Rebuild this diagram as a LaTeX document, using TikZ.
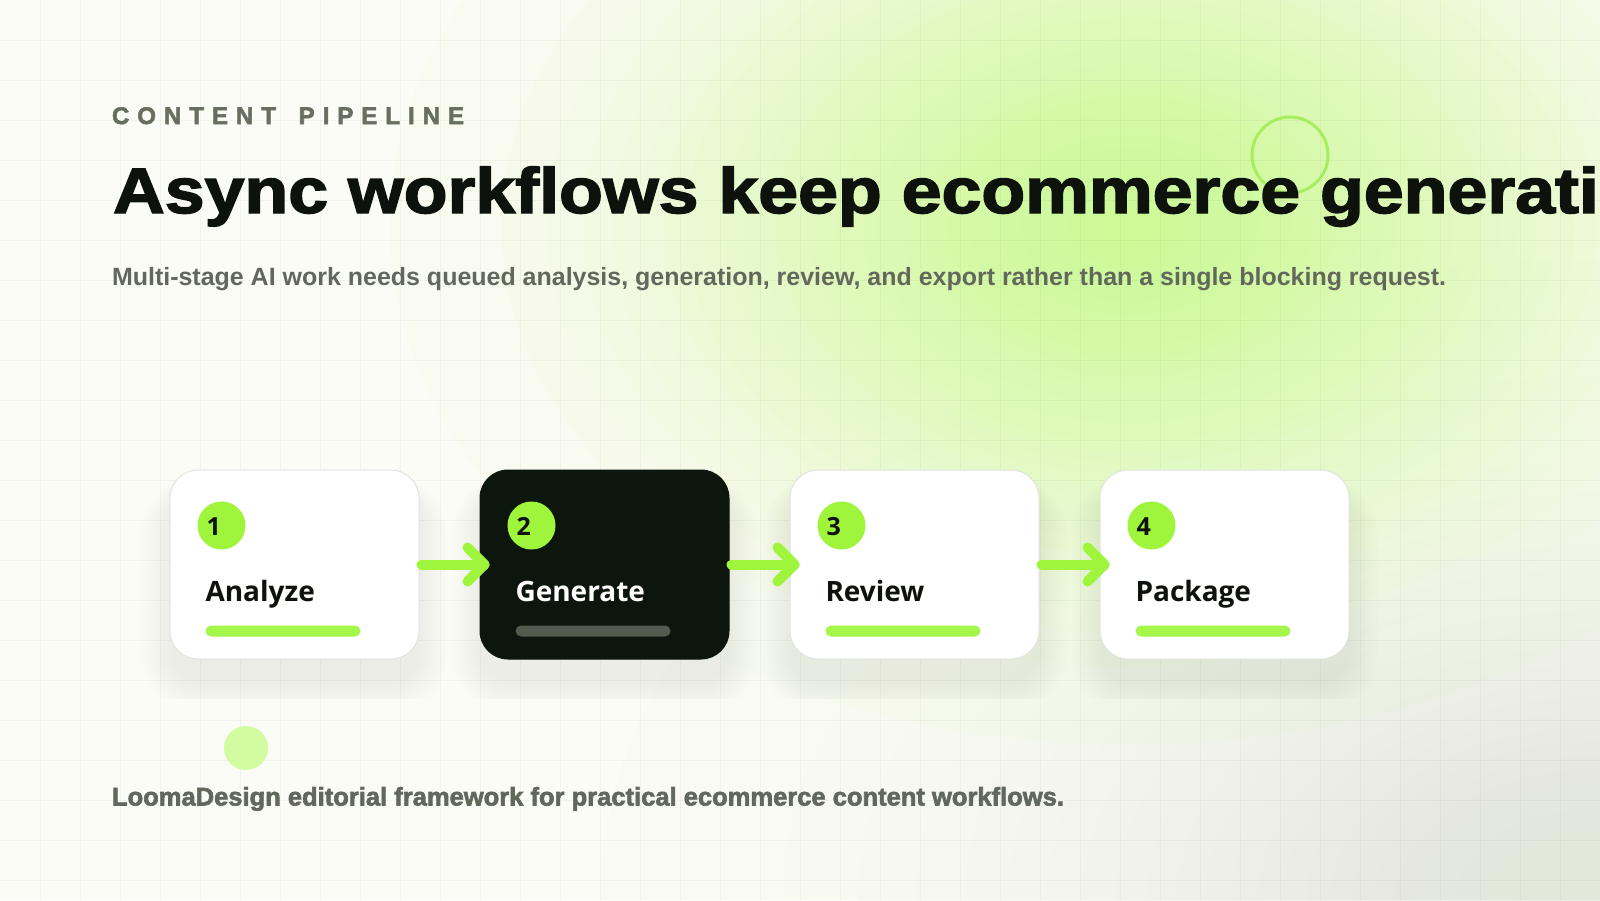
\documentclass[tikz,border=0pt]{standalone}
\usepackage{fontspec}
\usetikzlibrary{calc}
\setmainfont{Liberation Sans}
\newfontfamily\titlefont[FakeBold=2.2]{Liberation Sans Bold}
\newfontfamily\eyefont[FakeBold=2.4]{Liberation Sans Bold}
\newfontfamily\footfont[FakeBold=2.4]{Liberation Sans Bold}
\IfFontExistsTF{Noto Sans Bold}
  {\newfontfamily\cardfont{Noto Sans Bold}}
  {\IfFontExistsTF{Open Sans Bold}
     {\newfontfamily\cardfont{Open Sans Bold}}
     {\newfontfamily\cardfont[FakeBold=2.5]{Noto Sans}}}
\newcommand\lsp{\hspace*{8.0pt}}

\definecolor{bgc}{RGB}{251,252,245}
\definecolor{glowc}{RGB}{206,249,144}
\definecolor{graytint}{RGB}{226,232,218}
\definecolor{ink}{RGB}{13,19,12}
\definecolor{muted}{RGB}{98,105,92}
\definecolor{eyec}{RGB}{104,111,96}
\definecolor{limec}{RGB}{158,245,60}
\definecolor{limebar}{RGB}{164,246,74}
\definecolor{darkc}{RGB}{13,22,13}
\definecolor{darkbar}{RGB}{82,89,77}
\definecolor{softlime}{RGB}{210,252,160}
\definecolor{ringc}{RGB}{166,238,96}
\definecolor{cardborder}{RGB}{226,228,222}

\pgfdeclarelayer{bglayer}
\pgfdeclarelayer{shadowlayer}
\pgfsetlayers{bglayer,shadowlayer,main}

\tikzset{
  txt/.style={inner sep=0pt, outer sep=0pt},
  card/.style={rectangle, rounded corners=28pt, minimum width=249pt, minimum height=189pt, inner sep=0pt, fill=white, draw=cardborder, line width=1pt},
  darkcard/.style={card, fill=darkc, draw=darkc},
  badge/.style={circle, minimum size=48pt, inner sep=0pt, fill=limec},
  numtxt/.style={txt, anchor=base west, text=ink, font=\cardfont\fontsize{25}{25}\selectfont},
  labtxt/.style={txt, anchor=base west, font=\cardfont\fontsize{28}{30}\selectfont},
  flowline/.style={draw=limec, line width=10pt, line cap=round, line join=round},
  gridline/.style={draw=black, opacity=0.035, line width=1pt},
}

\begin{document}
\begin{tikzpicture}[x=1pt, y=-1pt]
\useasboundingbox (0,0) rectangle (1600,900);

\begin{pgfonlayer}{bglayer}
  \fill[bgc] (0,0) rectangle (1600,900);
  % soft gray tint bottom right
  \foreach \i in {1,...,30}{
    \pgfmathsetmacro\ff{1-sqrt((\i-1)/30)}
    \fill[graytint, opacity=0.045] (1600,900) ellipse [x radius=1000*\ff, y radius=640*\ff];
  }
  % lime glow
  \foreach \i in {1,...,44}{
    \pgfmathsetmacro\ff{1-sqrt((\i-1)/44)}
    \fill[glowc, opacity=0.045] (1130,225) ellipse [x radius=740*\ff, y radius=520*\ff];
  }
  \foreach \gx in {40,80,...,1560} \draw[gridline] (\gx,0) -- (\gx,900);
  \foreach \gy in {40,80,...,880} \draw[gridline] (0,\gy) -- (1600,\gy);
\end{pgfonlayer}

% decorative circles
\node[circle, minimum size=76pt, inner sep=0pt, draw=ringc, line width=3pt] (ring) at (1290,155) {};
\node[circle, minimum size=44pt, inner sep=0pt, fill=softlime] (dot) at (246,748) {};

% header texts
\node[txt, anchor=base west, text=eyec] (eyebrow) at (112,124)
  {\eyefont\fontsize{24}{24}\selectfont C\lsp O\lsp N\lsp T\lsp E\lsp N\lsp T\lsp\hspace*{6.7pt}\lsp P\lsp I\lsp P\lsp E\lsp L\lsp I\lsp N\lsp E};
\node[txt, anchor=base west, text=ink] (title) at (113,213)
  {\resizebox{1486pt}{46.5pt}{\titlefont\fontsize{64}{70}\selectfont Async workflows keep ecommerce generati}};
\node[txt, anchor=base west, text=muted] (subtitle) at (112,285.5)
  {\resizebox{1334pt}{!}{\bfseries\fontsize{24}{28}\selectfont Multi-stage AI work needs queued analysis, generation, review, and export rather than a single blocking request.}};
\node[txt, anchor=base west, text=muted] (footer) at (112,805.5)
  {\resizebox{952pt}{!}{\footfont\fontsize{22}{26}\selectfont LoomaDesign editorial framework for practical ecommerce content workflows.}};

% cards
\node[card] (c1) at (294.5,564.5) {};
\node[darkcard] (c2) at (604.5,564.5) {};
\node[card] (c3) at (914.5,564.5) {};
\node[card] (c4) at (1224.5,564.5) {};

\foreach \c/\n/\lab/\labcol/\barcol in {c1/1/Analyze/ink/limebar, c2/2/Generate/white/darkbar, c3/3/Review/ink/limebar, c4/4/Package/ink/limebar}{
  \node[badge] (\c-badge) at ($(\c.north west)+(52,56)$) {};
  \node[numtxt] (\c-num) at ($(\c.north west)+(37,66)$) {\n};
  \node[labtxt, text=\labcol] (\c-label) at ($(\c.north west)+(36,132)$) {\lab};
  \fill[\barcol, rounded corners=5.5pt] ($(\c.north west)+(36,156)$) rectangle ($(\c.north west)+(191,167)$);
}

% shadows
\begin{pgfonlayer}{shadowlayer}
  \begin{scope}
    \clip (0,0) rectangle (1600,698);
    \foreach \c in {c1,c2,c3,c4}{
      \foreach \k in {0,...,14}{
        \pgfmathsetmacro\ee{2.6*\k}
        \pgfmathsetmacro\rr{28+2.6*\k}
        \fill[black, opacity=0.0055, rounded corners=\rr pt] ($(\c.north west)+(-0.8*\ee,22-0.5*\ee)$) rectangle ($(\c.south east)+(0.8*\ee,22+\ee)$);
      }
    }
  \end{scope}
\end{pgfonlayer}

% connectors
\foreach \a/\b in {c1/c2, c2/c3, c3/c4}{
  \draw[flowline] ($(\a.east)+(2,0)$) -- ($(\b.west)+(5,0)$);
  \draw[flowline] ($(\b.west)+(-12,-17)$) -- ($(\b.west)+(5,0)$) -- ($(\b.west)+(-12,17)$);
}
\end{tikzpicture}
\end{document}
